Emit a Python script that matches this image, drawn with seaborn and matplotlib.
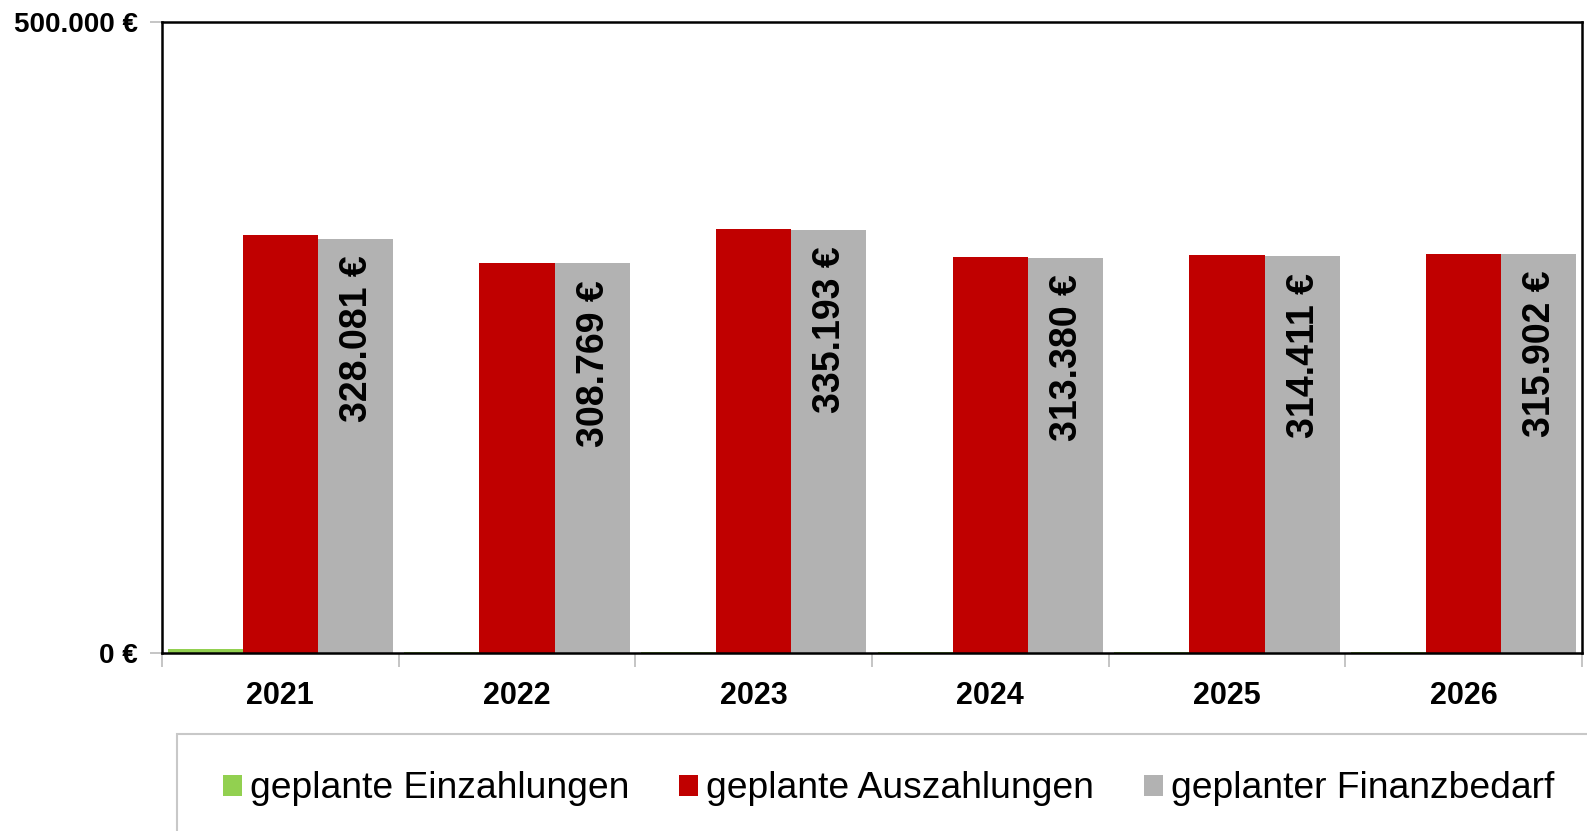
import matplotlib
matplotlib.use("Agg")
import matplotlib.pyplot as plt
import seaborn as sns
import pandas as pd
from matplotlib.patches import Patch, Rectangle

years = ["2021", "2022", "2023", "2024", "2025", "2026"]
einzahlungen = [3500, 600, 600, 600, 600, 600]
auszahlungen = [331581, 309369, 335793, 313980, 315011, 316502]
finanzbedarf = [328081, 308769, 335193, 313380, 314411, 315902]
series_names = ["geplante Einzahlungen", "geplante Auszahlungen", "geplanter Finanzbedarf"]
colors = ["#92D050", "#C00000", "#B2B2B2"]
ytick_vals = [0, 500000]
ytick_labels = ["0 €", "500.000 €"]

rows = []
for name, vals in zip(series_names, [einzahlungen, auszahlungen, finanzbedarf]):
    for y, v in zip(years, vals):
        rows.append({"Jahr": y, "Serie": name, "Wert": v})
df = pd.DataFrame(rows)

sns.set_theme(style="white")
plt.rcParams["font.family"] = ["Liberation Sans", "DejaVu Sans"]
plt.rcParams["text.color"] = "black"
plt.rcParams["xtick.labelcolor"] = "black"
plt.rcParams["ytick.labelcolor"] = "black"

fig = plt.figure(figsize=(15.87, 8.31), dpi=100)
ax = fig.add_axes([162 / 1587, 1 - 653 / 831, 1420 / 1587, 631 / 831])

sns.barplot(data=df, x="Jahr", y="Wert", hue="Serie", hue_order=series_names,
            palette=colors, width=0.953, gap=0, saturation=1, legend=False,
            edgecolor="none", linewidth=0, ax=ax)

ax.set_ylim(0, 500000)
ax.set_xlim(-0.5, len(years) - 0.5)
ax.set_yticks(ytick_vals)
ax.set_yticklabels(ytick_labels, fontsize=20, fontweight="bold")
ax.tick_params(axis="y", length=9, width=1.2, color="#BBBBBB", pad=8.5, left=True)
ax.set_xticks(range(len(years)))
ax.set_xticklabels(years, fontsize=22, fontweight="bold")
ax.tick_params(axis="x", which="major", length=0, pad=20)
ax.set_xticks([i - 0.5 for i in range(len(years) + 1)], minor=True)
ax.tick_params(axis="x", which="minor", length=10, width=1.2, color="#BBBBBB", bottom=True)
ax.set_xlabel("")
ax.set_ylabel("")
for s in ax.spines.values():
    s.set_visible(True)
    s.set_color("black")
    s.set_linewidth(1.8)

for p, v in zip(ax.containers[2], finanzbedarf):
    x = p.get_x() + p.get_width() / 2
    ax.annotate(f"{v:,}".replace(",", ".") + " €", (x, p.get_height()),
                xytext=(1, -12), textcoords="offset points", rotation=90,
                ha="center", va="top", fontsize=27, fontweight="bold", color="black")

# legend box
fig.patches.append(Rectangle((177 / 1587, -0.05), 1.0, 1 - 734 / 831 + 0.05,
                             transform=fig.transFigure, facecolor="white",
                             edgecolor="#C8C8C8", linewidth=1.5, zorder=0))
handles = [Patch(facecolor=c, edgecolor="none") for c in colors]
fig.legend(handles, series_names, loc="center left", bbox_to_anchor=(208 / 1587, 1 - 789 / 831),
           ncol=3, frameon=False, fontsize=26.8, handlelength=0.5, handleheight=0.5,
           handletextpad=0.22, columnspacing=1.35, borderaxespad=0)

fig.savefig("out.png", dpi=100)
